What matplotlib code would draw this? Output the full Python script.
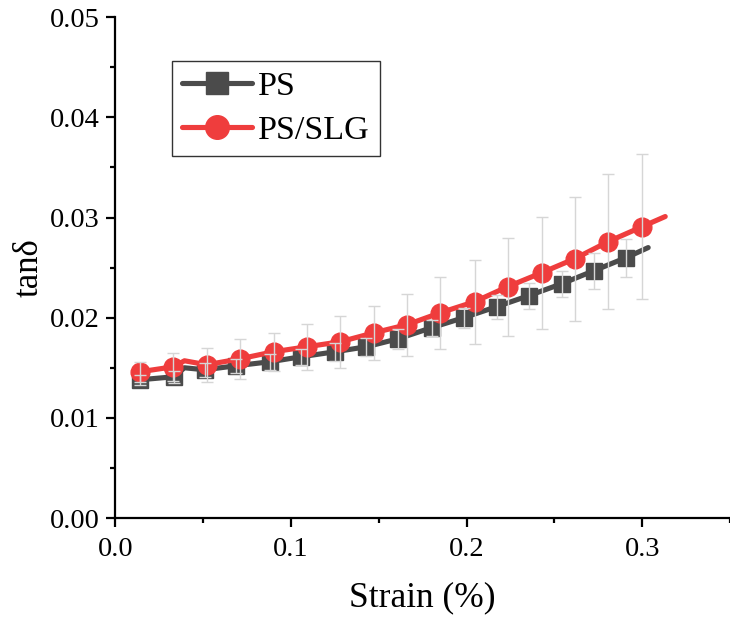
import numpy as np
import matplotlib
matplotlib.use("Agg")
import matplotlib.pyplot as plt
from matplotlib.ticker import MultipleLocator

plt.rcParams['font.family'] = ['Liberation Serif', 'DejaVu Serif']

# ---- data ----
ps_strain = [0.0137, 0.0331, 0.0509, 0.0686, 0.0880, 0.1057, 0.1251, 0.1429,
             0.1611, 0.1800, 0.1983, 0.2171, 0.2354, 0.2543, 0.2726, 0.2909]
ps_tand = [0.0138, 0.0141, 0.0148, 0.0152, 0.0156, 0.0161, 0.0166, 0.0171,
           0.0179, 0.0190, 0.0200, 0.0211, 0.0222, 0.0234, 0.0247, 0.0260]
ps_err = [0.0005, 0.0006, 0.0007, 0.0007, 0.0008, 0.0008, 0.0009, 0.0009,
          0.0010, 0.0008, 0.0010, 0.0012, 0.0013, 0.0013, 0.0018, 0.0019]
ps_extra_strain = [0.0393, 0.3034]
ps_extra_tand = [0.0150, 0.0270]

slg_strain = [0.0139, 0.0330, 0.0520, 0.0710, 0.0900, 0.1091, 0.1281, 0.1473,
              0.1660, 0.1851, 0.2046, 0.2234, 0.2429, 0.2617, 0.2807, 0.3001]
slg_tand = [0.0146, 0.0151, 0.0153, 0.0159, 0.0166, 0.0171, 0.0176, 0.0185,
            0.0193, 0.0205, 0.0216, 0.0231, 0.0245, 0.0259, 0.0276, 0.0291]
slg_err = [0.0010, 0.0014, 0.0017, 0.0020, 0.0019, 0.0023, 0.0026, 0.0027,
           0.0031, 0.0036, 0.0042, 0.0049, 0.0056, 0.0062, 0.0067, 0.0072]
slg_extra_strain = [0.0393, 0.3131]
slg_extra_tand = [0.0157, 0.0301]

labels = ["PS", "PS/SLG"]
xlabel = "Strain (%)"
ylabel = "tanδ"
xtick_vals = [0.0, 0.1, 0.2, 0.3]
xtick_labels = ["0.0", "0.1", "0.2", "0.3"]
ytick_vals = [0.0, 0.01, 0.02, 0.03, 0.04, 0.05]
ytick_labels = ["0.00", "0.01", "0.02", "0.03", "0.04", "0.05"]

c_ps = '#4b4b4b'
c_slg = '#ef3d3d'
c_err = '#d6d6d6'

fig = plt.figure(figsize=(7.3, 6.2), dpi=100)
ax = fig.add_axes([0.1582, 0.1645, 0.8418, 0.8077])


def line_trace(xs, ys, ex, ey):
    allx = np.array(list(xs) + list(ex))
    ally = np.array(list(ys) + list(ey))
    order = np.argsort(allx)
    allx, ally = allx[order], ally[order]
    mark = [i for i, v in enumerate(allx) if v in xs]
    return allx, ally, mark


for xs, ys, es, ex, ey, col, mk, ms, lab in [
        (ps_strain, ps_tand, ps_err, ps_extra_strain, ps_extra_tand, c_ps, 's', 11, labels[0]),
        (slg_strain, slg_tand, slg_err, slg_extra_strain, slg_extra_tand, c_slg, 'o', 13.5, labels[1])]:
    lx, ly, mark = line_trace(xs, ys, ex, ey)
    ax.plot(lx, ly, color=col, lw=3.7, marker=mk, ms=ms, markevery=mark,
            solid_capstyle='round', solid_joinstyle='round', label=lab, zorder=3)

for xs, ys, es in [(ps_strain, ps_tand, ps_err), (slg_strain, slg_tand, slg_err)]:
    ax.errorbar(xs, ys, yerr=es, fmt='none', ecolor=c_err, elinewidth=1.0,
                capsize=4.5, capthick=1.0, zorder=5)

ax.set_xlim(0, 0.35)
ax.set_ylim(0, 0.05)
ax.xaxis.set_minor_locator(MultipleLocator(0.05))
ax.yaxis.set_minor_locator(MultipleLocator(0.005))
ax.set_xticks(xtick_vals)
ax.set_xticklabels(xtick_labels)
ax.set_yticks(ytick_vals)
ax.set_yticklabels(ytick_labels)

for s in ['top', 'right']:
    ax.spines[s].set_visible(False)
for s in ['left', 'bottom']:
    ax.spines[s].set_linewidth(1.6)

ax.tick_params(which='major', direction='out', length=6.5, width=1.6, labelsize=20.5)
ax.tick_params(axis='y', which='major', pad=5)
ax.tick_params(axis='x', which='major', pad=7)
ax.tick_params(which='minor', direction='out', length=3.5, width=1.6)

ax.set_xlabel(xlabel, fontsize=25.5, labelpad=14)
ax.set_ylabel(ylabel, fontsize=25, labelpad=3)

leg = ax.legend(loc='upper left', bbox_to_anchor=(0.092, 0.913), borderaxespad=0,
                fontsize=24.5, frameon=True, fancybox=False, edgecolor='black',
                handlelength=2.05, handletextpad=0.18, borderpad=0.3,
                labelspacing=0.4, numpoints=1)
leg.get_frame().set_linewidth(1.0)
for h, msz in zip(leg.legend_handles, [15.5, 17]):
    h.set_markersize(msz)

fig.savefig("out.png", dpi=100)
